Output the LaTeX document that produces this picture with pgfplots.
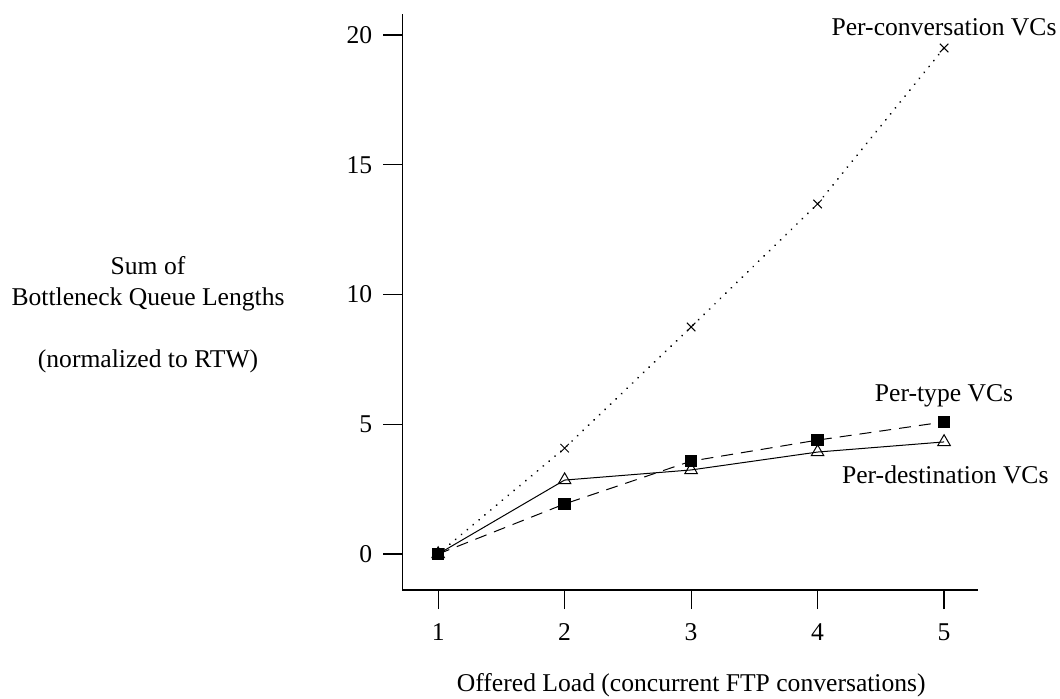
\documentclass[border=0pt]{standalone}
\usepackage{fontspec}
\setmainfont{Liberation Serif}
\usepackage{pgfplots}
\pgfplotsset{compat=1.18}
\begin{document}
\fontsize{12.8}{15.4}\selectfont
\begin{tikzpicture}
\begin{axis}[
  scale only axis,
  width=288pt, height=288pt,
  xmin=0.715, xmax=5.27,
  ymin=-1.39, ymax=20.81,
  axis lines=left,
  axis line style={-, line width=0.6pt},
  xtick={1,2,3,4,5},
  ytick={0,5,10,15,20},
  tick align=outside,
  major tick length=9.5pt,
  tick style={line width=0.6pt, black},
  xticklabel style={yshift=-3pt},
  yticklabel style={xshift=-1pt},
  /pgf/number format/assume math mode=true,
  ticklabel style={font=\fontsize{12.8}{15.4}\selectfont},
  clip=false,
]
\addplot[black, line width=1pt, dash pattern=on 0.01pt off 3.8pt, line cap=round, mark=x, mark size=3pt, mark options={solid, line width=0.5pt, line cap=butt}] coordinates {
  (1,0) (2,4.08) (3,8.75) (4,13.49) (5,19.5)
};
\addplot[black, line width=0.5pt, mark=triangle, mark size=3.6pt, mark options={solid, fill=white}] coordinates {
  (1,0) (2,2.85) (3,3.24) (4,3.93) (5,4.32)
};
\addplot[black, line width=0.5pt, dash pattern=on 6pt off 4pt, mark=square*, mark size=2.9pt, mark options={solid}] coordinates {
  (1,0) (2,1.93) (3,3.58) (4,4.39) (5,5.09)
};
\node at (axis cs:5,20.3) {Per-conversation VCs};
\node at (axis cs:5,6.1) {Per-type VCs};
\node at (axis cs:5.01,3.04) {Per-destination VCs};
\coordinate (bbsw) at (rel axis cs:-0.698,-0.1875);
\coordinate (bbne) at (rel axis cs:1.142,1.0243);
\node[align=center] at (rel axis cs:-0.441,0.478) {Sum of\\Bottleneck Queue Lengths\\[\baselineskip](normalized to RTW)};
\node at (rel axis cs:0.502,-0.165) {Offered Load (concurrent FTP conversations)};
\end{axis}
\pgfresetboundingbox
\path (bbsw) rectangle (bbne);
\end{tikzpicture}
\end{document}
